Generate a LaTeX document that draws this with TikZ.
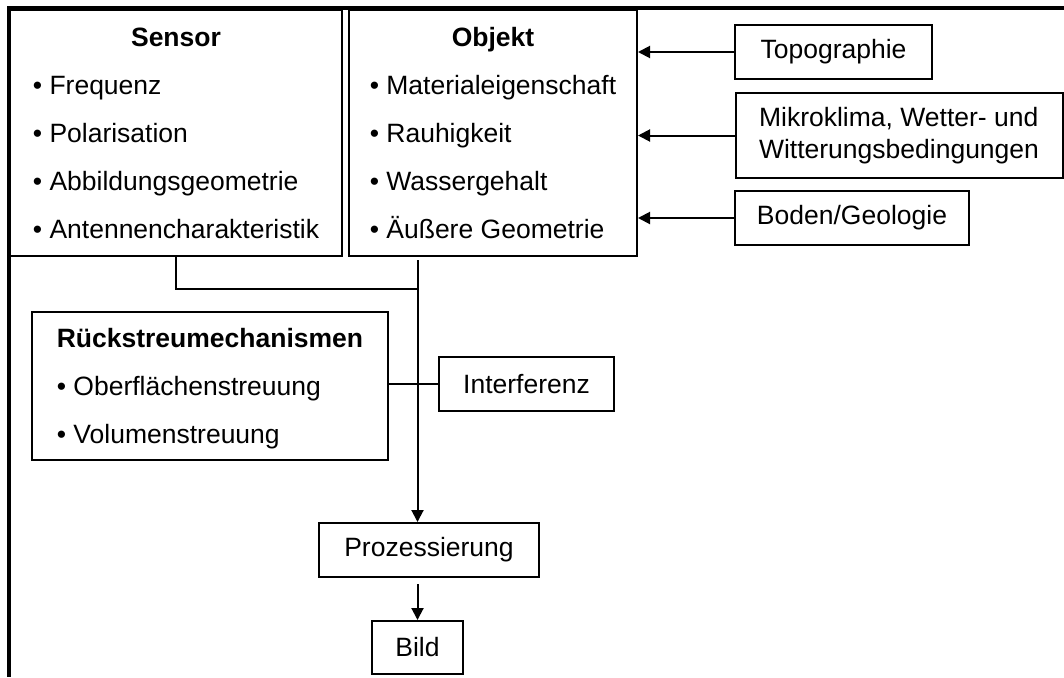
\documentclass[tikz,border=0pt]{standalone}
\usepackage{fontspec}
\setmainfont{Liberation Sans}
\usetikzlibrary{arrows.meta}

\begin{document}
\begin{tikzpicture}[x=1pt,y=-1pt,
    box/.style={draw,line width=2pt,inner sep=0pt,font=\fontsize{26.5}{48}\selectfont},
    conn/.style={draw,line width=2pt},
    arr/.style={conn,-{Triangle[length=12pt,width=12pt]}}]
    \useasboundingbox (0,0) rectangle (1064,677);
    \draw[line width=4pt] (1064,8)--(9,8)--(9,677);

    \node[box,minimum width=332pt,minimum height=246pt] (sensor) at (176,133) {\begin{tabular}{@{}l@{}}
        \multicolumn{1}{@{}c@{}}{\textbf{Sensor}}\\
        \textbullet\ Frequenz\\
        \textbullet\ Polarisation\\
        \textbullet\ Abbildungsgeometrie\\
        \textbullet\ Antennencharakteristik
    \end{tabular}};
    \node[box,minimum width=288pt,minimum height=246pt] (objekt) at (493,133) {\begin{tabular}{@{}l@{}}
        \multicolumn{1}{@{}c@{}}{\textbf{Objekt}}\\
        \textbullet\ Materialeigenschaft\\
        \textbullet\ Rauhigkeit\\
        \textbullet\ Wassergehalt\\
        \textbullet\ Äußere Geometrie
    \end{tabular}};

    \node[box,minimum width=197pt,minimum height=53pt] (topo) at (833.5,52) {Topographie};
    \node[box,minimum width=327pt,minimum height=85pt,align=left,font=\fontsize{26.5}{32}\selectfont] (klima) at (899,135.5) {Mikroklima, Wetter- und\\Witterungsbedingungen};
    \node[box,minimum width=234pt,minimum height=54pt] (boden) at (852,218) {Boden/Geologie};
    \draw[arr] (topo.west)--(topo.west -| objekt.east);
    \draw[arr] (klima.west)--(klima.west -| objekt.east);
    \draw[arr] (boden.west)--(boden.west -| objekt.east);

    \node[box,minimum width=356pt,minimum height=148pt] (rueck) at (210,386) {\begin{tabular}{@{}l@{}}
        \multicolumn{1}{@{}c@{}}{\textbf{Rückstreumechanismen}}\\
        \textbullet\ Oberflächenstreuung\\
        \textbullet\ Volumenstreuung
    \end{tabular}};
    \node[box,minimum width=175pt,minimum height=54pt] (inter) at (526.5,384) {Interferenz};
    \node[box,minimum width=220pt,minimum height=54pt] (proz) at (429,550) {Prozessierung};
    \node[box,minimum width=91pt,minimum height=53pt] (bild) at (417.5,647.5) {Bild};

    \coordinate (join) at (417.5,289);
    \draw[conn] (sensor.south) |- (join);
    \draw[arr,shorten <=3pt] (objekt.south -| bild.north)--(bild.north |- proz.north);
    \draw[conn] (inter.west -| rueck.east)--(inter.west);
    \draw[arr,shorten <=6pt] (proz.south -| bild.north)--(bild.north);
\end{tikzpicture}
\end{document}
